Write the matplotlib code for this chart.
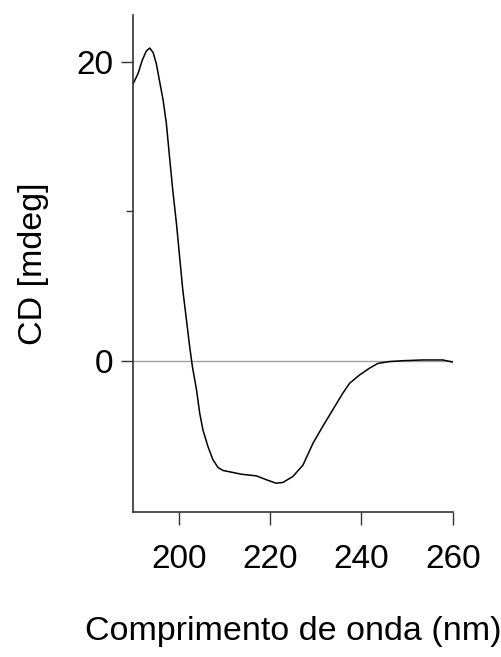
import matplotlib
matplotlib.use("Agg")
import matplotlib.pyplot as plt
from matplotlib.ticker import FixedLocator

plt.rcParams['font.family'] = ['Liberation Sans', 'DejaVu Sans']

# CD spectrum
wavelength = [190.0, 191.1, 192.0, 192.9, 193.65, 194.4, 195.1, 195.8, 196.6, 197.3,
              198.0, 198.7, 199.5, 200.2, 200.9, 201.7, 202.4, 203.0, 203.9, 204.6,
              205.3, 206.4, 207.5, 208.6, 209.7, 211.5, 213.7, 217.0, 219.2, 221.3,
              222.8, 225.0, 227.2, 229.4, 231.5, 233.7, 235.9, 237.4, 239.6, 241.7,
              243.6, 246.1, 249.0, 253.4, 257.8, 260.0]
cd = [18.5, 19.2, 20.07, 20.7, 20.9, 20.6, 19.85, 18.7, 17.4, 15.85,
      13.6, 11.4, 9.2, 6.95, 4.73, 2.73, 0.95, -0.38, -1.93, -3.49,
      -4.6, -5.71, -6.6, -7.11, -7.31, -7.42, -7.56, -7.67, -7.93, -8.16,
      -8.11, -7.71, -6.95, -5.49, -4.38, -3.27, -2.16, -1.49, -0.93, -0.49,
      -0.16, -0.04, 0.02, 0.07, 0.07, -0.07]

x_ticks = [200, 220, 240, 260]
y_ticks = [0, 20]
y_minor = [10]

fig = plt.figure(figsize=(5.02, 6.57), dpi=100)
ax = fig.add_axes([0.265, 0.221, 0.637, 0.756])

ax.axhline(0, color='#a0a0a0', linewidth=1.0, zorder=1)
ax.plot(wavelength, cd, color='black', linewidth=1.1, zorder=2)

ax.set_xlim(190, 260)
ax.set_ylim(-10.07, 23.1)
ax.set_xticks(x_ticks)
ax.set_yticks(y_ticks)
ax.yaxis.set_minor_locator(FixedLocator(y_minor))

for side in ['top', 'right']:
    ax.spines[side].set_visible(False)
for side in ['left', 'bottom']:
    ax.spines[side].set_color('#333333')
    ax.spines[side].set_linewidth(1.2)

ax.tick_params(axis='both', which='major', direction='out', length=9,
               width=1.0, color='#333333', labelsize=24)
ax.tick_params(axis='x', which='major', pad=14)
ax.tick_params(axis='y', which='major', pad=5)
ax.tick_params(axis='y', which='minor', direction='out', length=5,
               width=1.0, color='#333333')

ax.set_xlabel('Comprimento de onda (nm)', fontsize=24.5, labelpad=30)
ax.set_ylabel('CD [mdeg]', fontsize=24.5, labelpad=20)

fig.savefig('out.png', dpi=100)
